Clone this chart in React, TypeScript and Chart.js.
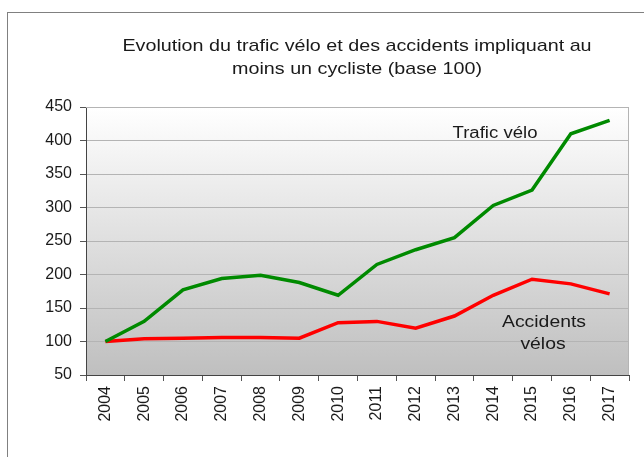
import React, { useEffect, useRef } from "react";
import { Chart, registerables } from "chart.js";

Chart.register(...registerables);

const years = ["2004", "2005", "2006", "2007", "2008", "2009", "2010", "2011", "2012", "2013", "2014", "2015", "2016", "2017"];
const traficVelo = [100, 130, 177, 194, 199, 188, 169, 215, 237, 255, 303, 326, 410, 430];
const accidentsVelos = [100, 104, 105, 106, 106, 105, 128, 130, 120, 138, 169, 193, 186, 171];
const titleLines = ["Evolution du trafic vélo et des accidents impliquant au", "moins un cycliste (base 100)"];
const yTicks = [50, 100, 150, 200, 250, 300, 350, 400, 450];

const FONT = "'Liberation Sans', Arial, sans-serif";

function stretchedText(ctx: CanvasRenderingContext2D, text: string, x: number, y: number, size: number, sx: number) {
  ctx.save();
  ctx.font = `${size}px ${FONT}`;
  ctx.textAlign = "center";
  ctx.textBaseline = "alphabetic";
  ctx.translate(x, y);
  ctx.scale(sx, 1);
  ctx.fillText(text, 0, 0);
  ctx.restore();
}

export default function App() {
  const ref = useRef<HTMLCanvasElement | null>(null);
  useEffect(() => {
    document.body.style.margin = "0";
    const canvas = ref.current!;
    const decor = {
      id: "decor",
      beforeDraw(chart: any) {
        const { ctx, chartArea: a } = chart;
        ctx.save();
        ctx.fillStyle = "#ffffff";
        ctx.fillRect(0, 0, chart.width, chart.height);
        ctx.strokeStyle = "#808080";
        ctx.lineWidth = 1;
        ctx.strokeRect(7.5, 12.5, 800, 600);
        const g = ctx.createLinearGradient(0, a.top, 0, a.bottom);
        g.addColorStop(0, "#ffffff");
        g.addColorStop(1, "#bfbfbf");
        ctx.fillStyle = g;
        ctx.fillRect(a.left, a.top, a.right - a.left, a.bottom - a.top);
        ctx.restore();
      },
      afterDatasetsDraw(chart: any) {
        const { ctx, chartArea: a } = chart;
        ctx.save();
        ctx.strokeStyle = "#b4b4b4";
        ctx.lineWidth = 1;
        ctx.beginPath();
        ctx.moveTo(a.left, a.top + 0.5);
        ctx.lineTo(a.right - 0.5, a.top + 0.5);
        ctx.lineTo(a.right - 0.5, a.bottom);
        ctx.stroke();
        ctx.fillStyle = "#1a1a1a";
        stretchedText(ctx, titleLines[0], 357, 51, 17, 1.16);
        stretchedText(ctx, titleLines[1], 357, 73.5, 17, 1.16);
        stretchedText(ctx, "Trafic vélo", 495, 138, 16, 1.16);
        stretchedText(ctx, "Accidents", 544, 326.5, 17, 1.14);
        stretchedText(ctx, "vélos", 543, 348.5, 17, 1.14);
        ctx.restore();
      },
    };
    const chart = new Chart(canvas, {
      type: "line",
      data: {
        labels: years,
        datasets: [
          {
            label: "Trafic vélo",
            data: traficVelo,
            borderColor: "#008a00",
            borderWidth: 3.5,
            pointRadius: 0,
            tension: 0,
          },
          {
            label: "Accidents vélos",
            data: accidentsVelos,
            borderColor: "#ff0000",
            borderWidth: 3.5,
            pointRadius: 0,
            tension: 0,
          },
        ],
      },
      options: {
        animation: false,
        responsive: false,
        layout: { padding: { top: 107, right: 15, left: 0, bottom: 0 } },
        plugins: { legend: { display: false }, title: { display: false }, tooltip: { enabled: false } },
        scales: {
          x: {
            offset: true,
            grid: { offset: true, drawOnChartArea: false, drawTicks: true, tickLength: 6, tickColor: "#555" },
            border: { color: "#444", width: 1 },
            ticks: {
              maxRotation: 90,
              minRotation: 90,
              color: "#1a1a1a",
              font: { family: FONT, size: 16 },
              padding: 5,
            },
            afterFit(scale: any) {
              scale.height = 82;
            },
          },
          y: {
            min: 50,
            max: 450,
            afterBuildTicks(scale: any) {
              scale.ticks = yTicks.map((v) => ({ value: v }));
            },
            grid: { color: "#b4b4b4", tickColor: "#555", tickLength: 6 },
            border: { color: "#444", width: 1 },
            ticks: {
              color: "#1a1a1a",
              font: { family: FONT, size: 16 },
              padding: 8,
            },
            afterFit(scale: any) {
              scale.width = 86;
            },
          },
        },
      },
      plugins: [decor],
    });
    return () => chart.destroy();
  }, []);
  return <canvas ref={ref} width={644} height={457} style={{ display: "block" }} />;
}
